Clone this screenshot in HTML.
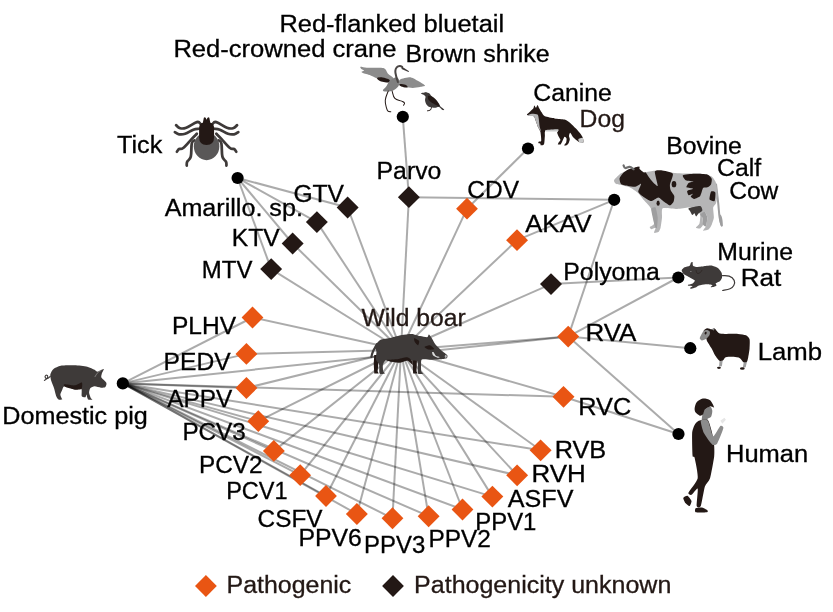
<!DOCTYPE html>
<html lang="en"><head><meta charset="utf-8"><title>Wild boar virus network</title>
<style>html,body{margin:0;padding:0;background:#fff}body{width:833px;height:612px;overflow:hidden}svg{display:block}text{font-family:"Liberation Sans",Arial,Helvetica,sans-serif;font-size:23.3px;stroke-width:0.3px}</style></head><body>
<svg width="833" height="612" viewBox="0 0 833 612">
<rect width="833" height="612" fill="#fff"/>
<g id="edges" stroke="#000" stroke-opacity="0.33" stroke-width="2" fill="none">
<line x1="401.0" y1="350.0" x2="347.6" y2="207.5"/>
<line x1="401.0" y1="350.0" x2="316.9" y2="222.1"/>
<line x1="401.0" y1="350.0" x2="292.6" y2="243.5"/>
<line x1="401.0" y1="350.0" x2="271.2" y2="269.1"/>
<line x1="401.0" y1="350.0" x2="408.9" y2="197.2"/>
<line x1="401.0" y1="350.0" x2="467.0" y2="208.7"/>
<line x1="401.0" y1="350.0" x2="517.0" y2="240.2"/>
<line x1="401.0" y1="350.0" x2="551.0" y2="284.1"/>
<line x1="401.0" y1="350.0" x2="568.2" y2="336.6"/>
<line x1="401.0" y1="350.0" x2="563.5" y2="396.8"/>
<line x1="401.0" y1="350.0" x2="540.6" y2="450.3"/>
<line x1="401.0" y1="350.0" x2="517.1" y2="475.3"/>
<line x1="401.0" y1="350.0" x2="492.4" y2="496.6"/>
<line x1="401.0" y1="350.0" x2="462.5" y2="509.5"/>
<line x1="401.0" y1="350.0" x2="428.6" y2="516.2"/>
<line x1="401.0" y1="350.0" x2="392.5" y2="518.3"/>
<line x1="401.0" y1="350.0" x2="356.9" y2="514.0"/>
<line x1="401.0" y1="350.0" x2="326.0" y2="496.0"/>
<line x1="401.0" y1="350.0" x2="300.2" y2="475.2"/>
<line x1="401.0" y1="350.0" x2="273.8" y2="450.9"/>
<line x1="401.0" y1="350.0" x2="258.3" y2="421.2"/>
<line x1="401.0" y1="350.0" x2="246.4" y2="388.0"/>
<line x1="401.0" y1="350.0" x2="246.4" y2="353.9"/>
<line x1="401.0" y1="350.0" x2="252.5" y2="317.5"/>
<line x1="122.8" y1="383.4" x2="252.5" y2="317.5"/>
<line x1="122.8" y1="383.4" x2="246.4" y2="353.9"/>
<line x1="122.8" y1="383.4" x2="246.4" y2="388.0"/>
<line x1="122.8" y1="383.4" x2="258.3" y2="421.2"/>
<line x1="122.8" y1="383.4" x2="273.8" y2="450.9"/>
<line x1="122.8" y1="383.4" x2="300.2" y2="475.2"/>
<line x1="122.8" y1="383.4" x2="326.0" y2="496.0"/>
<line x1="122.8" y1="383.4" x2="356.9" y2="514.0"/>
<line x1="122.8" y1="383.4" x2="392.5" y2="518.3"/>
<line x1="122.8" y1="383.4" x2="428.6" y2="516.2"/>
<line x1="122.8" y1="383.4" x2="462.5" y2="509.5"/>
<line x1="122.8" y1="383.4" x2="492.4" y2="496.6"/>
<line x1="122.8" y1="383.4" x2="517.1" y2="475.3"/>
<line x1="122.8" y1="383.4" x2="540.6" y2="450.3"/>
<line x1="122.8" y1="383.4" x2="563.5" y2="396.8"/>
<line x1="122.8" y1="383.4" x2="568.2" y2="336.6"/>
<line x1="237.6" y1="178.0" x2="347.6" y2="207.5"/>
<line x1="237.6" y1="178.0" x2="316.9" y2="222.1"/>
<line x1="237.6" y1="178.0" x2="292.6" y2="243.5"/>
<line x1="237.6" y1="178.0" x2="271.2" y2="269.1"/>
<line x1="402.8" y1="116.8" x2="408.9" y2="197.2"/>
<line x1="528.0" y1="148.5" x2="467.0" y2="208.7"/>
<line x1="614.2" y1="199.8" x2="517.0" y2="240.2"/>
<line x1="614.2" y1="199.8" x2="408.9" y2="197.2"/>
<line x1="614.2" y1="199.8" x2="568.2" y2="336.6"/>
<line x1="678.3" y1="277.5" x2="551.0" y2="284.1"/>
<line x1="678.3" y1="277.5" x2="568.2" y2="336.6"/>
<line x1="690.3" y1="348.2" x2="568.2" y2="336.6"/>
<line x1="678.5" y1="434.0" x2="568.2" y2="336.6"/>
<line x1="678.5" y1="434.0" x2="563.5" y2="396.8"/>
</g>
<g id="diamonds">
<path d="M347.6 196.6L358.6 207.5L347.6 218.4L336.7 207.5Z" fill="#231815"/>
<path d="M316.9 211.2L327.8 222.1L316.9 233.0L305.9 222.1Z" fill="#231815"/>
<path d="M292.6 232.6L303.6 243.5L292.6 254.4L281.7 243.5Z" fill="#231815"/>
<path d="M271.2 258.2L282.1 269.1L271.2 280.1L260.2 269.1Z" fill="#231815"/>
<path d="M408.9 186.2L419.8 197.2L408.9 208.1L397.9 197.2Z" fill="#231815"/>
<path d="M467.0 197.8L477.9 208.7L467.0 219.6L456.1 208.7Z" fill="#e95513"/>
<path d="M517.0 229.2L528.0 240.2L517.0 251.1L506.1 240.2Z" fill="#e95513"/>
<path d="M551.0 273.2L562.0 284.1L551.0 295.1L540.0 284.1Z" fill="#231815"/>
<path d="M568.2 325.7L579.2 336.6L568.2 347.6L557.2 336.6Z" fill="#e95513"/>
<path d="M563.5 385.9L574.5 396.8L563.5 407.8L552.5 396.8Z" fill="#e95513"/>
<path d="M540.6 439.4L551.6 450.3L540.6 461.2L529.6 450.3Z" fill="#e95513"/>
<path d="M517.1 464.4L528.1 475.3L517.1 486.2L506.2 475.3Z" fill="#e95513"/>
<path d="M492.4 485.7L503.3 496.6L492.4 507.6L481.4 496.6Z" fill="#e95513"/>
<path d="M462.5 498.6L473.4 509.5L462.5 520.5L451.6 509.5Z" fill="#e95513"/>
<path d="M428.6 505.3L439.6 516.2L428.6 527.2L417.7 516.2Z" fill="#e95513"/>
<path d="M392.5 507.3L403.4 518.3L392.5 529.2L381.6 518.3Z" fill="#e95513"/>
<path d="M356.9 503.1L367.8 514.0L356.9 525.0L345.9 514.0Z" fill="#e95513"/>
<path d="M326.0 485.1L336.9 496.0L326.0 506.9L315.1 496.0Z" fill="#e95513"/>
<path d="M300.2 464.2L311.1 475.2L300.2 486.1L289.2 475.2Z" fill="#e95513"/>
<path d="M273.8 439.9L284.8 450.9L273.8 461.8L262.9 450.9Z" fill="#e95513"/>
<path d="M258.3 410.2L269.2 421.2L258.3 432.1L247.4 421.2Z" fill="#e95513"/>
<path d="M246.4 377.1L257.4 388.0L246.4 398.9L235.5 388.0Z" fill="#e95513"/>
<path d="M246.4 342.9L257.4 353.9L246.4 364.8L235.5 353.9Z" fill="#e95513"/>
<path d="M252.5 306.6L263.4 317.5L252.5 328.4L241.6 317.5Z" fill="#e95513"/>
<path d="M205.9 575.1L216.8 586.1L205.9 597.1L195.0 586.1Z" fill="#e95513"/>
<path d="M393.0 575.1L403.9 586.1L393.0 597.1L382.1 586.1Z" fill="#231815"/>
</g>
<g id="hosts" fill="#000">
<circle cx="122.8" cy="383.4" r="6.1"/>
<circle cx="237.6" cy="178.0" r="6.1"/>
<circle cx="402.8" cy="116.8" r="6.1"/>
<circle cx="528.0" cy="148.5" r="6.1"/>
<circle cx="614.2" cy="199.8" r="6.1"/>
<circle cx="678.3" cy="277.5" r="6.1"/>
<circle cx="690.3" cy="348.2" r="6.1"/>
<circle cx="678.5" cy="434.0" r="6.1"/>
</g>
<g id="animals">
<g id="tick" transform="translate(170 110) scale(0.10135)">
<path d="M300.0 135.0C293.0 132.0 293.0 112.0 265.0 120.0C237.0 128.0 193.0 163.0 160.0 175.0C127.0 187.0 120.0 185.0 100.0 180.0C80.0 175.0 68.0 156.0 60.0 150.0" fill="none" stroke="#3e3a39" stroke-width="27" stroke-linecap="round" stroke-linejoin="round"/>
<path d="M422.0 135.0C429.0 132.0 429.0 112.0 457.0 120.0C485.0 128.0 529.0 163.0 562.0 175.0C595.0 187.0 602.0 185.0 622.0 180.0C642.0 175.0 654.0 156.0 662.0 150.0" fill="none" stroke="#3e3a39" stroke-width="27" stroke-linecap="round" stroke-linejoin="round"/>
<path d="M285.0 185.0C274.0 187.0 257.0 185.0 230.0 195.0C203.0 205.0 178.0 226.0 150.0 235.0C122.0 244.0 110.4 243.4 90.0 240.0C69.6 236.6 56.4 222.4 48.0 218.0" fill="none" stroke="#3e3a39" stroke-width="27" stroke-linecap="round" stroke-linejoin="round"/>
<path d="M437.0 185.0C448.0 187.0 465.0 185.0 492.0 195.0C519.0 205.0 544.0 226.0 572.0 235.0C600.0 244.0 611.6 243.4 632.0 240.0C652.4 236.6 665.6 222.4 674.0 218.0" fill="none" stroke="#3e3a39" stroke-width="27" stroke-linecap="round" stroke-linejoin="round"/>
<path d="M265.0 235.0C255.0 245.0 242.0 257.0 215.0 285.0C188.0 313.0 155.0 355.0 130.0 375.0C105.0 395.0 102.4 377.6 90.0 385.0C77.6 392.4 72.4 406.6 68.0 412.0" fill="none" stroke="#3e3a39" stroke-width="27" stroke-linecap="round" stroke-linejoin="round"/>
<path d="M457.0 235.0C467.0 245.0 480.0 257.0 507.0 285.0C534.0 313.0 567.0 355.0 592.0 375.0C617.0 395.0 619.6 377.6 632.0 385.0C644.4 392.4 649.6 406.6 654.0 412.0" fill="none" stroke="#3e3a39" stroke-width="27" stroke-linecap="round" stroke-linejoin="round"/>
<path d="M240.0 300.0C235.0 306.0 222.0 298.0 215.0 330.0C208.0 362.0 214.0 424.0 205.0 460.0C196.0 496.0 178.0 492.4 170.0 510.0C162.0 527.6 166.0 540.4 165.0 548.0" fill="none" stroke="#3e3a39" stroke-width="27" stroke-linecap="round" stroke-linejoin="round"/>
<path d="M482.0 300.0C487.0 306.0 500.0 298.0 507.0 330.0C514.0 362.0 508.0 424.0 517.0 460.0C526.0 496.0 544.0 492.4 552.0 510.0C560.0 527.6 556.0 540.4 557.0 548.0" fill="none" stroke="#3e3a39" stroke-width="27" stroke-linecap="round" stroke-linejoin="round"/>
<ellipse cx="361" cy="358" rx="126" ry="137" fill="#595757"/>
<path d="M287 180Q287 125 330 125L392 125Q435 125 435 180L435 270Q435 345 361 345Q287 345 287 270Z" fill="#231815"/>
<path d="M322 135L334 76Q345 64 353 80L361 96L369 80Q378 64 388 76L400 135Z" fill="#231815"/>
</g>
<g id="crane" transform="translate(356 60) scale(0.09147)">
<path d="M50.0 75.0C58.7 73.7 86.7 83.3 120.0 85.0C153.3 86.7 269.3 79.3 300.0 88.0C330.7 96.7 335.3 135.1 350.0 150.0C364.7 164.9 407.3 187.3 410.0 200.0C412.7 212.7 384.7 241.0 370.0 245.0C355.3 249.0 319.3 236.0 300.0 230.0C280.7 224.0 245.0 208.7 225.0 200.0C205.0 191.3 166.7 171.7 150.0 165.0C133.3 158.3 112.0 154.7 100.0 150.0C88.0 145.3 61.3 134.7 60.0 130.0C58.7 125.3 90.7 119.7 90.0 115.0C89.3 110.3 60.3 100.3 55.0 95.0C49.7 89.7 41.3 76.3 50.0 75.0Z" fill="#8c8c8c"/>
<path d="M235.0 195.0C243.3 190.8 268.3 186.7 290.0 190.0C311.7 193.3 354.2 205.8 365.0 215.0C375.8 224.2 367.5 241.2 355.0 245.0C342.5 248.8 309.2 243.0 290.0 238.0C270.8 233.0 249.2 222.2 240.0 215.0C230.8 207.8 226.7 199.2 235.0 195.0Z" fill="#231815"/>
<path d="M480.0 215.0C496.0 203.7 573.3 188.0 600.0 190.0C626.7 192.0 659.3 218.0 680.0 230.0C700.7 242.0 752.3 271.3 755.0 280.0C757.7 288.7 718.0 291.7 700.0 295.0C682.0 298.3 641.3 305.0 620.0 305.0C598.7 305.0 558.7 299.0 540.0 295.0C521.3 291.0 488.0 285.7 480.0 275.0C472.0 264.3 464.0 226.3 480.0 215.0Z" fill="#8c8c8c"/>
<path d="M480.0 262.0C490.3 260.3 525.8 264.0 540.0 270.0C554.2 276.0 568.3 293.3 565.0 298.0C561.7 302.7 534.5 301.0 520.0 298.0C505.5 295.0 484.7 286.0 478.0 280.0C471.3 274.0 469.7 263.7 480.0 262.0Z" fill="#231815"/>
<path d="M410.0 200.0C425.0 191.7 439.2 185.0 450.0 190.0C460.8 195.0 472.5 214.2 475.0 230.0C477.5 245.8 474.2 269.2 465.0 285.0C455.8 300.8 437.5 315.0 420.0 325.0C402.5 335.0 380.8 343.3 360.0 345.0C339.2 346.7 300.0 344.2 295.0 335.0C290.0 325.8 319.2 305.8 330.0 290.0C340.8 274.2 346.7 255.0 360.0 240.0C373.3 225.0 395.0 208.3 410.0 200.0Z" fill="#7f7f7f"/>
<path d="M458.0 240.0C454.4 228.0 445.6 204.0 440.0 180.0C434.4 156.0 429.0 140.0 430.0 120.0C431.0 100.0 435.0 91.0 445.0 80.0C455.0 69.0 468.0 66.0 480.0 65.0C492.0 64.0 500.0 73.0 505.0 75.0" fill="none" stroke="#4a4645" stroke-width="22" stroke-linecap="round" stroke-linejoin="round"/>
<path d="M500.0 72.0L580.0 122.0L574.0 132.0L498.0 98.0Z" fill="#3e3a39"/>
<path d="M352.0 340.0C345.6 360.0 323.4 402.0 320.0 440.0C316.6 478.0 329.0 506.4 335.0 530.0C341.0 553.6 341.0 550.8 350.0 558.0C359.0 565.2 374.0 564.4 380.0 566.0" fill="none" stroke="#231815" stroke-width="11" stroke-linecap="round" stroke-linejoin="round"/>
<path d="M395.0 340.0C401.0 356.0 404.0 398.0 425.0 420.0C446.0 442.0 479.0 440.0 500.0 450.0C521.0 460.0 526.0 461.0 530.0 470.0C534.0 479.0 522.0 490.0 520.0 495.0" fill="none" stroke="#231815" stroke-width="11" stroke-linecap="round" stroke-linejoin="round"/>
</g>
<g id="bird" transform="translate(415 86) scale(0.04904)">
<path d="M230.0 125.0C243.3 127.0 276.7 140.0 290.0 150.0C303.3 160.0 312.7 184.0 330.0 200.0C347.3 216.0 398.7 248.7 420.0 270.0C441.3 291.3 476.7 340.0 490.0 360.0C503.3 380.0 506.0 404.0 520.0 420.0C534.0 436.0 589.7 470.7 595.0 480.0C600.3 489.3 574.0 496.7 560.0 490.0C546.0 483.3 511.3 436.0 490.0 430.0C468.7 424.0 425.3 445.0 400.0 445.0C374.7 445.0 322.7 440.0 300.0 430.0C277.3 420.0 242.7 388.7 230.0 370.0C217.3 351.3 207.0 310.0 205.0 290.0C203.0 270.0 217.0 233.3 215.0 220.0C213.0 206.7 201.3 198.0 190.0 190.0C178.7 182.0 138.7 165.6 130.0 160.0C121.3 154.4 117.0 151.3 125.0 148.0C133.0 144.7 176.0 138.1 190.0 135.0C204.0 131.9 216.7 123.0 230.0 125.0Z" fill="#3e3a39"/>
<path d="M270.0 200.0C281.7 190.8 313.3 200.0 340.0 215.0C366.7 230.0 405.8 264.2 430.0 290.0C454.2 315.8 473.3 350.0 485.0 370.0C496.7 390.0 510.8 408.3 500.0 410.0C489.2 411.7 448.3 393.3 420.0 380.0C391.7 366.7 355.0 348.3 330.0 330.0C305.0 311.7 280.0 291.7 270.0 270.0C260.0 248.3 258.3 209.2 270.0 200.0Z" fill="#231815"/>
<path d="M335.0 440.0C331.7 448.3 328.3 479.2 315.0 490.0C301.7 500.8 265.0 502.5 255.0 505.0" fill="none" stroke="#231815" stroke-width="20" stroke-linecap="round" stroke-linejoin="round"/>
</g>
<g id="fox" transform="translate(522 100) scale(0.08173)">
<path d="M60.0 178.0C61.2 171.6 90.7 149.1 100.0 140.0C109.3 130.9 134.2 108.4 140.0 100.0C145.8 91.6 146.5 68.6 150.0 68.0C153.5 67.4 165.3 95.9 170.0 95.0C174.7 94.1 185.3 59.4 190.0 60.0C194.7 60.6 204.2 89.5 210.0 100.0C215.8 110.5 231.8 138.3 240.0 150.0C248.2 161.7 261.3 191.2 280.0 200.0C298.7 208.8 372.0 220.3 400.0 225.0C428.0 229.7 497.8 233.6 520.0 240.0C542.2 246.4 573.7 267.2 590.0 280.0C606.3 292.8 644.8 333.7 660.0 350.0C675.2 366.3 710.1 406.6 720.0 420.0C729.9 433.4 741.5 453.3 745.0 465.0C748.5 476.7 756.4 514.8 750.0 520.0C743.6 525.2 704.0 517.0 690.0 510.0C676.0 503.0 641.7 472.8 630.0 460.0C618.3 447.2 596.4 402.3 590.0 400.0C583.6 397.7 575.6 430.7 575.0 440.0C574.4 449.3 585.6 469.5 585.0 480.0C584.4 490.5 574.7 521.2 570.0 530.0C565.3 538.8 551.4 552.1 545.0 555.0C538.6 557.9 515.6 559.1 515.0 555.0C514.4 550.9 536.5 529.9 540.0 520.0C543.5 510.1 547.3 478.2 545.0 470.0C542.7 461.8 525.2 447.7 520.0 450.0C514.8 452.3 505.2 479.5 500.0 490.0C494.8 500.5 482.0 533.6 475.0 540.0C468.0 546.4 443.5 546.8 440.0 545.0C436.5 543.2 441.5 531.4 445.0 525.0C448.5 518.6 469.4 498.8 470.0 490.0C470.6 481.2 454.7 460.5 450.0 450.0C445.3 439.5 431.2 409.3 430.0 400.0C428.8 390.7 456.3 372.9 440.0 370.0C423.7 367.1 308.7 366.8 290.0 375.0C271.3 383.2 282.3 420.8 280.0 440.0C277.7 459.2 275.8 526.6 270.0 540.0C264.2 553.4 235.2 555.6 230.0 555.0C224.8 554.4 228.5 538.5 225.0 535.0C221.5 531.5 202.3 527.9 200.0 525.0C197.7 522.1 200.9 512.9 205.0 510.0C209.1 507.1 232.7 514.0 235.0 500.0C237.3 486.0 229.7 409.8 225.0 390.0C220.3 370.2 201.4 345.2 195.0 330.0C188.6 314.8 175.8 275.2 170.0 260.0C164.2 244.8 154.3 207.6 145.0 200.0C135.7 192.4 99.9 197.6 90.0 195.0C80.1 192.4 58.8 184.4 60.0 178.0Z" fill="#231815"/>
<path d="M120.0 168.0C133.4 167.2 180.1 170.8 190.0 178.0C199.9 185.2 202.1 213.4 205.0 230.0C207.9 246.6 211.8 302.3 215.0 320.0C218.2 337.7 234.3 380.8 232.0 382.0C229.7 383.2 202.2 344.2 195.0 330.0C187.8 315.8 175.8 275.2 170.0 260.0C164.2 244.8 155.5 207.6 145.0 200.0C134.5 192.4 88.2 196.8 80.0 195.0C71.8 193.2 70.3 188.2 75.0 185.0C79.7 181.8 106.6 168.8 120.0 168.0Z" fill="#b5b5b6"/>
<path d="M290.0 368.0C304.0 365.2 425.8 356.4 440.0 358.0C454.2 359.6 446.0 381.2 432.0 384.0C418.0 386.8 314.2 387.6 300.0 386.0C285.8 384.4 276.0 370.8 290.0 368.0Z" fill="#c9caca"/>
<path d="M690.0 478.0C694.2 472.6 735.8 457.6 742.0 462.0C748.2 466.4 756.2 516.6 752.0 522.0C747.8 527.4 706.2 520.4 700.0 516.0C693.8 511.6 685.8 483.4 690.0 478.0Z" fill="#c9caca"/>
</g>
<g id="cow" transform="translate(608 160) scale(0.14405)">
<path d="M750.0 170.0C752.5 191.7 760.8 261.7 765.0 300.0C769.2 338.3 770.8 374.2 775.0 400.0C779.2 425.8 787.5 445.8 790.0 455.0" fill="none" stroke="#9e9e9f" stroke-width="14" stroke-linecap="round" stroke-linejoin="round"/>
<ellipse cx="784" cy="420" rx="11" ry="42" fill="#9e9e9f" transform="rotate(-8 784 420)"/>
<path d="M42.0 140.0C44.5 133.5 70.2 107.0 80.0 100.0C89.8 93.0 128.0 74.5 140.0 70.0C152.0 65.5 189.0 53.5 200.0 55.0C211.0 56.5 237.0 83.0 250.0 85.0C263.0 87.0 307.0 74.3 330.0 75.0C353.0 75.7 448.0 90.0 480.0 92.0C512.0 94.0 626.0 92.7 650.0 95.0C674.0 97.3 710.0 108.5 720.0 115.0C730.0 121.5 746.0 147.5 750.0 160.0C754.0 172.5 760.0 226.0 760.0 240.0C760.0 254.0 753.0 291.0 750.0 300.0C747.0 309.0 731.5 320.0 730.0 330.0C728.5 340.0 736.0 388.0 735.0 400.0C734.0 412.0 723.5 442.0 720.0 450.0C716.5 458.0 706.0 476.0 700.0 480.0C694.0 484.0 662.0 492.0 660.0 490.0C658.0 488.0 677.0 469.0 680.0 460.0C683.0 451.0 691.0 410.0 690.0 400.0C689.0 390.0 673.5 360.0 670.0 360.0C666.5 360.0 656.0 391.0 655.0 400.0C654.0 409.0 661.5 442.5 660.0 450.0C658.5 457.5 645.0 473.0 640.0 475.0C635.0 477.0 610.5 473.5 610.0 470.0C609.5 466.5 632.0 449.0 635.0 440.0C638.0 431.0 642.5 390.0 640.0 380.0C637.5 370.0 618.0 345.0 610.0 340.0C602.0 335.0 573.0 330.0 560.0 330.0C547.0 330.0 498.0 339.5 480.0 340.0C462.0 340.5 390.5 329.0 380.0 335.0C369.5 341.0 376.5 386.5 375.0 400.0C373.5 413.5 367.5 460.0 365.0 470.0C362.5 480.0 354.5 496.5 350.0 500.0C345.5 503.5 322.0 508.0 320.0 505.0C318.0 502.0 332.0 472.5 330.0 470.0C328.0 467.5 304.0 480.5 300.0 480.0C296.0 479.5 288.0 469.0 290.0 465.0C292.0 461.0 319.0 452.5 320.0 440.0C321.0 427.5 307.0 356.0 300.0 340.0C293.0 324.0 259.0 291.0 250.0 280.0C241.0 269.0 220.0 239.0 210.0 230.0C200.0 221.0 161.0 195.5 150.0 190.0C139.0 184.5 109.5 177.5 100.0 175.0C90.5 172.5 60.8 168.5 55.0 165.0C49.2 161.5 39.5 146.5 42.0 140.0Z" fill="#b5b5b6"/>
<path d="M300.0 340.0C301.0 329.0 325.5 324.0 330.0 330.0C334.5 336.0 344.0 386.0 345.0 400.0C346.0 414.0 341.5 463.0 340.0 470.0C338.5 477.0 332.0 473.0 330.0 470.0C328.0 467.0 323.0 453.0 320.0 440.0C317.0 427.0 299.0 351.0 300.0 340.0Z" fill="#9e9e9f"/>
<path d="M640.0 380.0C641.5 376.0 665.0 358.0 670.0 360.0C675.0 362.0 689.0 390.0 690.0 400.0C691.0 410.0 683.0 455.0 680.0 460.0C677.0 465.0 662.5 456.0 660.0 450.0C657.5 444.0 657.0 407.0 655.0 400.0C653.0 393.0 638.5 384.0 640.0 380.0Z" fill="#9e9e9f"/>
<path d="M80.0 128.0C81.2 120.4 98.0 98.2 104.0 92.0C110.0 85.8 130.4 70.0 140.0 66.0C149.6 62.0 189.2 50.0 200.0 52.0C210.8 54.0 241.8 82.6 248.0 86.0C254.2 89.4 256.8 80.6 262.0 86.0C267.2 91.4 291.7 130.6 300.0 140.0C308.3 149.4 342.5 186.0 345.0 180.0C347.5 174.0 322.5 90.8 325.0 80.0C327.5 69.2 357.5 70.5 370.0 72.0C382.5 73.5 444.0 85.2 450.0 95.0C456.0 104.8 431.5 158.5 430.0 170.0C428.5 181.5 432.0 202.0 435.0 210.0C438.0 218.0 458.0 242.0 460.0 250.0C462.0 258.0 458.0 283.5 455.0 290.0C452.0 296.5 436.5 315.0 430.0 315.0C423.5 315.0 398.0 295.5 390.0 290.0C382.0 284.5 359.0 260.5 350.0 260.0C341.0 259.5 310.5 285.5 300.0 285.0C289.5 284.5 254.0 261.5 245.0 255.0C236.0 248.5 211.5 229.0 210.0 220.0C208.5 211.0 232.0 168.5 230.0 165.0C228.0 161.5 199.0 183.5 190.0 185.0C181.0 186.5 149.8 181.7 140.0 180.0C130.2 178.3 98.0 173.2 92.0 168.0C86.0 162.8 78.8 135.6 80.0 128.0Z" fill="#231815"/>
<path d="M520.0 105.0C526.0 100.5 583.0 95.5 600.0 95.0C617.0 94.5 678.0 96.5 690.0 100.0C702.0 103.5 717.5 123.0 720.0 130.0C722.5 137.0 718.0 164.0 715.0 170.0C712.0 176.0 695.5 187.5 690.0 190.0C684.5 192.5 665.0 189.0 660.0 195.0C655.0 201.0 646.0 242.5 640.0 250.0C634.0 257.5 606.5 269.5 600.0 270.0C593.5 270.5 576.0 258.5 575.0 255.0C574.0 251.5 591.5 236.0 590.0 235.0C588.5 234.0 564.0 247.0 560.0 245.0C556.0 243.0 547.0 219.5 550.0 215.0C553.0 210.5 590.5 202.5 590.0 200.0C589.5 197.5 548.0 194.0 545.0 190.0C542.0 186.0 555.0 164.0 560.0 160.0C565.0 156.0 597.0 152.0 595.0 150.0C593.0 148.0 547.5 144.5 540.0 140.0C532.5 135.5 514.0 109.5 520.0 105.0Z" fill="#231815"/>
<path d="M715.0 220.0C719.0 215.0 742.5 218.5 745.0 225.0C747.5 231.5 744.0 280.0 740.0 285.0C736.0 290.0 707.5 281.5 705.0 275.0C702.5 268.5 711.0 225.0 715.0 220.0Z" fill="#231815"/>
<ellipse cx="458" cy="168" rx="16" ry="22" fill="#231815"/>
<ellipse cx="348" cy="300" rx="11" ry="18" fill="#231815"/>
<path d="M560.0 335.0C567.0 331.5 630.5 318.5 640.0 320.0C649.5 321.5 656.0 345.0 655.0 350.0C654.0 355.0 634.3 365.8 630.0 370.0C625.7 374.2 615.0 392.0 612.0 392.0C609.0 392.0 602.7 371.0 600.0 370.0C597.3 369.0 588.0 383.5 585.0 382.0C582.0 380.5 572.5 359.7 570.0 355.0C567.5 350.3 553.0 338.5 560.0 335.0Z" fill="#3e3a39"/>
<path d="M108.0 38.0C110.4 41.6 111.6 54.0 120.0 56.0C128.4 58.0 138.4 46.4 150.0 48.0C161.6 49.6 172.4 60.8 178.0 64.0" fill="none" stroke="#6f6f6f" stroke-width="15" stroke-linecap="round" stroke-linejoin="round"/>
<path d="M185.0 55.0C187.3 52.4 214.9 44.9 218.0 46.0C221.1 47.1 218.3 63.4 216.0 66.0C213.7 68.6 198.1 73.1 195.0 72.0C191.9 70.9 182.7 57.6 185.0 55.0Z" fill="#231815"/>
</g>
<g id="rat" transform="translate(672 256) scale(0.08403)">
<path d="M585.0 235.0C604.0 236.0 649.0 229.0 680.0 240.0C711.0 251.0 729.0 268.0 740.0 290.0C751.0 312.0 745.0 330.0 735.0 350.0C725.0 370.0 716.6 378.0 690.0 390.0C663.4 402.0 619.6 406.0 602.0 410.0" fill="none" stroke="#3e3a39" stroke-width="14" stroke-linecap="round" stroke-linejoin="round"/>
<path d="M115.0 170.0C116.2 160.7 138.9 141.4 150.0 135.0C161.1 128.6 201.2 121.4 210.0 115.0C218.8 108.6 220.9 85.0 225.0 80.0C229.1 75.0 242.1 67.9 245.0 72.0C247.9 76.1 243.6 108.2 250.0 115.0C256.4 121.8 282.5 129.7 300.0 130.0C317.5 130.3 379.0 119.8 400.0 118.0C421.0 116.2 462.5 111.8 480.0 115.0C497.5 118.2 537.2 135.1 550.0 145.0C562.8 154.9 584.8 186.6 590.0 200.0C595.2 213.4 597.3 248.3 595.0 260.0C592.7 271.7 578.8 292.4 570.0 300.0C561.2 307.6 524.7 319.2 520.0 325.0C515.3 330.8 532.3 345.3 530.0 350.0C527.7 354.7 508.2 362.7 500.0 365.0C491.8 367.3 462.3 372.3 460.0 370.0C457.7 367.7 487.0 349.1 480.0 345.0C473.0 340.9 418.7 334.4 400.0 335.0C381.3 335.6 334.0 345.3 320.0 350.0C306.0 354.7 290.5 370.3 280.0 375.0C269.5 379.7 237.6 389.4 230.0 390.0C222.4 390.6 213.2 383.5 215.0 380.0C216.8 376.5 246.8 362.9 245.0 360.0C243.2 357.1 206.4 356.8 200.0 355.0C193.6 353.2 184.2 348.5 190.0 345.0C195.8 341.5 240.7 331.4 250.0 325.0C259.3 318.6 275.8 298.8 270.0 290.0C264.2 281.2 215.2 258.8 200.0 250.0C184.8 241.2 149.9 224.3 140.0 215.0C130.1 205.7 113.8 179.3 115.0 170.0Z" fill="#3e3a39"/>
<ellipse cx="225" cy="186" rx="7" ry="5" fill="#dcdddd"/>
<path d="M288.0 172.0C290.0 178.4 289.6 198.0 298.0 204.0C306.4 210.0 318.4 208.8 330.0 202.0C341.6 195.2 350.8 176.4 356.0 170.0" fill="none" stroke="#231815" stroke-width="6" stroke-linecap="round" stroke-linejoin="round"/>
</g>
<g id="sheep" transform="translate(694 322) scale(0.08819)">
<path d="M290.0 436.0L326.0 432.0L316.0 502.0L284.0 506.0Z" fill="#9e9e9f"/>
<path d="M565.0 452.0L602.0 446.0L586.0 512.0L554.0 516.0Z" fill="#9e9e9f"/>
<ellipse cx="283" cy="520" rx="22" ry="12" fill="#231815"/>
<ellipse cx="548" cy="527" rx="27" ry="14" fill="#231815"/>
<path d="M150.0 70.0C160.5 67.9 190.1 81.4 200.0 82.0C209.9 82.6 225.7 70.0 235.0 75.0C244.3 80.0 266.6 118.0 280.0 125.0C293.4 132.0 324.3 133.8 350.0 135.0C375.7 136.2 472.0 133.2 500.0 135.0C528.0 136.8 574.8 143.0 590.0 150.0C605.2 157.0 625.3 177.5 630.0 195.0C634.7 212.5 631.8 276.1 630.0 300.0C628.2 323.9 618.5 382.5 615.0 400.0C611.5 417.5 606.4 443.6 600.0 450.0C593.6 456.4 569.3 459.7 560.0 455.0C550.7 450.3 532.8 417.0 520.0 410.0C507.2 403.0 468.7 396.2 450.0 395.0C431.3 393.8 374.0 395.3 360.0 400.0C346.0 404.7 338.2 430.3 330.0 435.0C321.8 439.7 300.5 446.4 290.0 440.0C279.5 433.6 250.5 396.3 240.0 380.0C229.5 363.7 210.5 318.7 200.0 300.0C189.5 281.3 157.0 232.8 150.0 220.0C143.0 207.2 144.7 204.0 140.0 190.0C135.3 176.0 108.8 114.0 110.0 100.0C111.2 86.0 139.5 72.1 150.0 70.0Z" fill="#231815"/>
<path d="M110.0 100.0C117.6 94.2 141.8 88.8 150.0 90.0C158.2 91.2 177.1 103.0 180.0 110.0C182.9 117.0 179.7 140.7 175.0 150.0C170.3 159.3 149.9 183.0 140.0 190.0C130.1 197.0 98.8 210.6 90.0 210.0C81.2 209.4 65.6 193.2 65.0 185.0C64.4 176.8 79.8 149.9 85.0 140.0C90.2 130.1 102.4 105.8 110.0 100.0Z" fill="#8c8c8c"/>
<ellipse cx="132" cy="126" rx="11" ry="16" fill="#231815" transform="rotate(20 132 126)"/>
<path d="M198.0 86.0L236.0 68.0L226.0 96.0Z" fill="#8c8c8c"/>
</g>
<g id="human" transform="translate(672 392) scale(0.20559)">
<path d="M160.0 85.0C164.7 80.3 180.2 69.3 185.0 70.0C189.8 70.7 195.3 83.3 196.0 90.0C196.7 96.7 193.5 114.8 190.0 120.0C186.5 125.2 174.7 129.0 170.0 129.0C165.3 129.0 157.7 123.2 155.0 120.0C152.3 116.8 149.3 109.7 150.0 105.0C150.7 100.3 155.3 89.7 160.0 85.0Z" fill="#7f7f7f"/>
<path d="M148.0 108.0L174.0 128.0L172.0 142.0L143.0 142.0Z" fill="#7f7f7f"/>
<path d="M110.0 80.0C110.7 73.3 114.7 56.4 120.0 50.0C125.3 43.6 141.3 33.3 150.0 32.0C158.7 30.7 177.7 34.3 185.0 40.0C192.3 45.7 205.0 71.0 205.0 75.0C205.0 79.0 191.0 68.7 185.0 70.0C179.0 71.3 164.7 79.7 160.0 85.0C155.3 90.3 153.3 106.0 150.0 110.0C146.7 114.0 139.7 116.3 135.0 115.0C130.3 113.7 118.3 104.7 115.0 100.0C111.7 95.3 109.3 86.7 110.0 80.0Z" fill="#231815"/>
<path d="M130.0 140.0C136.5 137.8 168.5 132.0 175.0 138.0C181.5 144.0 192.0 187.8 195.0 200.0C198.0 212.2 204.0 248.5 205.0 260.0C206.0 271.5 207.0 299.0 205.0 315.0C203.0 331.0 189.5 405.5 185.0 420.0C180.5 434.5 164.5 446.5 160.0 460.0C155.5 473.5 144.0 545.5 140.0 555.0C136.0 564.5 121.5 563.5 120.0 555.0C118.5 546.5 127.5 475.5 125.0 470.0C122.5 464.5 99.5 498.0 95.0 500.0C90.5 502.0 77.0 498.0 80.0 490.0C83.0 482.0 122.0 437.0 125.0 420.0C128.0 403.0 112.5 331.0 110.0 320.0C107.5 309.0 101.2 322.0 100.0 310.0C98.8 298.0 97.0 215.0 98.0 200.0C99.0 185.0 106.8 166.0 110.0 160.0C113.2 154.0 123.5 142.2 130.0 140.0Z" fill="#231815"/>
<path d="M140.0 140.0C142.0 134.0 169.0 132.5 175.0 140.0C181.0 147.5 194.0 212.5 200.0 215.0C206.0 217.5 230.0 169.0 235.0 165.0C240.0 161.0 251.5 166.5 250.0 175.0C248.5 183.5 225.5 242.0 220.0 250.0C214.5 258.0 201.5 260.0 195.0 255.0C188.5 250.0 160.5 211.5 155.0 200.0C149.5 188.5 138.0 146.0 140.0 140.0Z" fill="#8c8c8c"/>
<path d="M235.0 140.0L255.0 125.0L262.0 135.0L245.0 155.0Z" fill="#e6e6e6"/>
<path d="M55.0 515.0C56.0 511.5 71.0 503.5 75.0 505.0C79.0 506.5 94.0 525.0 95.0 530.0C96.0 535.0 88.0 554.0 85.0 555.0C82.0 556.0 68.0 544.0 65.0 540.0C62.0 536.0 54.0 518.5 55.0 515.0Z" fill="#231815"/>
<path d="M115.0 565.0C118.0 562.7 139.3 561.0 145.0 562.0C150.7 563.0 169.5 572.7 172.0 575.0C174.5 577.3 175.7 584.0 170.0 585.0C164.3 586.0 120.5 587.0 115.0 585.0C109.5 583.0 112.0 567.3 115.0 565.0Z" fill="#231815"/>
</g>
<g id="pig" transform="translate(38 358) scale(0.09124)">
<path d="M135.0 200.0C129.0 205.0 116.0 222.0 105.0 225.0C94.0 228.0 84.0 222.0 80.0 215.0C76.0 208.0 80.0 194.0 85.0 190.0C90.0 186.0 102.0 188.0 105.0 195.0C108.0 202.0 107.0 215.0 100.0 225.0C93.0 235.0 76.0 241.0 70.0 245.0" fill="none" stroke="#3e3a39" stroke-width="12" stroke-linecap="round" stroke-linejoin="round"/>
<path d="M135.0 180.0C137.9 164.8 156.6 131.1 170.0 120.0C183.4 108.9 223.2 89.7 250.0 85.0C276.8 80.3 366.2 78.8 400.0 80.0C433.8 81.2 514.3 89.2 540.0 95.0C565.7 100.8 607.2 123.6 620.0 130.0C632.8 136.4 638.3 151.2 650.0 150.0C661.7 148.8 714.2 117.7 720.0 120.0C725.8 122.3 702.9 158.9 700.0 170.0C697.1 181.1 689.8 203.9 695.0 215.0C700.2 226.1 738.6 256.2 745.0 265.0C751.4 273.8 751.2 283.6 750.0 290.0C748.8 296.4 742.0 315.9 735.0 320.0C728.0 324.1 703.4 326.2 690.0 325.0C676.6 323.8 633.4 309.4 620.0 310.0C606.6 310.6 582.0 321.8 575.0 330.0C568.0 338.2 559.4 367.2 560.0 380.0C560.6 392.8 575.3 431.2 580.0 440.0C584.7 448.8 603.5 453.2 600.0 455.0C596.5 456.8 558.2 461.4 550.0 455.0C541.8 448.6 533.5 402.9 530.0 400.0C526.5 397.1 525.8 427.7 520.0 430.0C514.2 432.3 485.2 430.5 480.0 420.0C474.8 409.5 484.3 348.8 475.0 340.0C465.7 331.2 421.6 348.5 400.0 345.0C378.4 341.5 305.8 309.4 290.0 310.0C274.2 310.6 270.2 339.5 265.0 350.0C259.8 360.5 245.6 388.9 245.0 400.0C244.4 411.1 257.7 438.6 260.0 445.0C262.3 451.4 269.1 453.8 265.0 455.0C260.9 456.2 232.6 459.1 225.0 455.0C217.4 450.9 205.8 434.6 200.0 420.0C194.2 405.4 181.4 349.8 175.0 330.0C168.6 310.2 149.7 267.5 145.0 250.0C140.3 232.5 132.1 195.2 135.0 180.0Z" fill="#3e3a39"/>
<path d="M290.0 288.0C302.1 286.1 377.8 302.3 400.0 300.0C422.2 297.7 471.1 263.3 480.0 268.0C488.9 272.7 485.3 331.0 476.0 340.0C466.7 349.0 421.0 347.8 400.0 345.0C379.0 342.2 308.8 322.6 296.0 316.0C283.2 309.4 277.9 289.9 290.0 288.0Z" fill="#231815"/>
<path d="M625.0 205.0C631.0 196.0 642.0 173.0 655.0 160.0C668.0 147.0 683.0 144.0 690.0 140.0" fill="none" stroke="#c9caca" stroke-width="5" stroke-linecap="round" stroke-linejoin="round"/>
</g>
<g id="boar" transform="translate(364 328) scale(0.10804)">
<path d="M120.0 150.0C112.8 163.0 94.4 191.4 84.0 215.0C73.6 238.6 71.2 257.4 68.0 268.0" fill="none" stroke="#3e3a39" stroke-width="20" stroke-linecap="round" stroke-linejoin="round"/>
<path d="M95.0 250.0L140.0 250.0L126.0 400.0L136.0 420.0L95.0 420.0L90.0 330.0Z" fill="#231815"/>
<path d="M440.0 250.0L492.0 250.0L486.0 400.0L496.0 420.0L455.0 420.0L450.0 330.0Z" fill="#231815"/>
<path d="M100.0 170.0C104.1 157.2 132.5 119.3 150.0 110.0C167.5 100.7 226.7 95.2 250.0 90.0C273.3 84.8 327.8 69.1 350.0 65.0C372.2 60.9 420.2 53.8 440.0 55.0C459.8 56.2 503.1 71.5 520.0 75.0C536.9 78.5 575.7 86.8 585.0 85.0C594.3 83.2 595.3 59.4 600.0 60.0C604.7 60.6 618.0 79.5 625.0 90.0C632.0 100.5 648.9 136.0 660.0 150.0C671.1 164.0 707.2 198.3 720.0 210.0C732.8 221.7 764.8 241.8 770.0 250.0C775.2 258.2 773.2 275.3 765.0 280.0C756.8 284.7 716.9 288.2 700.0 290.0C683.1 291.8 636.3 295.0 620.0 295.0C603.7 295.0 570.5 289.4 560.0 290.0C549.5 290.6 533.5 287.2 530.0 300.0C526.5 312.8 527.9 386.0 530.0 400.0C532.1 414.0 551.5 417.7 548.0 420.0C544.5 422.3 506.2 432.8 500.0 420.0C493.8 407.2 502.0 324.0 495.0 310.0C488.0 296.0 451.1 301.2 440.0 300.0C428.9 298.8 412.8 297.7 400.0 300.0C387.2 302.3 347.5 318.2 330.0 320.0C312.5 321.8 265.2 317.3 250.0 315.0C234.8 312.7 208.8 297.1 200.0 300.0C191.2 302.9 177.6 328.3 175.0 340.0C172.4 351.7 176.0 390.7 178.0 400.0C180.0 409.3 195.8 417.7 192.0 420.0C188.2 422.3 151.1 429.3 145.0 420.0C138.9 410.7 144.1 355.2 140.0 340.0C135.9 324.8 112.9 304.0 110.0 290.0C107.1 276.0 116.2 234.0 115.0 220.0C113.8 206.0 95.9 182.8 100.0 170.0Z" fill="#3e3a39"/>
<path d="M210.0 298.0C206.5 294.5 277.8 293.3 300.0 290.0C322.2 286.7 383.7 268.8 400.0 270.0C416.3 271.2 434.2 291.8 440.0 300.0C445.8 308.2 454.7 340.0 450.0 340.0C445.3 340.0 414.0 302.3 400.0 300.0C386.0 297.7 352.2 320.2 330.0 320.0C307.8 319.8 213.5 301.5 210.0 298.0Z" fill="#231815"/>
<path d="M560.0 175.0C561.2 170.3 599.5 157.7 610.0 160.0C620.5 162.3 651.2 190.3 650.0 195.0C648.8 199.7 610.5 202.3 600.0 200.0C589.5 197.7 558.8 179.7 560.0 175.0Z" fill="#231815"/>
<path d="M465.0 95.0C469.7 93.8 505.9 112.4 510.0 120.0C514.1 127.6 504.7 158.8 500.0 160.0C495.3 161.2 474.1 137.6 470.0 130.0C465.9 122.4 460.3 96.2 465.0 95.0Z" fill="#231815"/>
<path d="M630.0 225.0C629.4 228.5 634.2 249.2 640.0 255.0C645.8 260.8 673.0 273.2 680.0 275.0C687.0 276.8 701.8 272.0 700.0 270.0C698.2 268.0 671.4 263.2 665.0 258.0C658.6 252.8 649.1 228.8 645.0 225.0C640.9 221.2 630.6 221.5 630.0 225.0Z" fill="#dcdddd"/>
<ellipse cx="757" cy="262" rx="9" ry="15" fill="#b5b5b6"/>
</g>
</g>
<g id="labels" style="will-change:opacity">
<text x="279.4" y="32.1" textLength="224.7" lengthAdjust="spacingAndGlyphs" fill="#000" stroke="#000">Red-flanked bluetail</text>
<text x="173.4" y="57.4" textLength="223.1" lengthAdjust="spacingAndGlyphs" fill="#000" stroke="#000">Red-crowned crane</text>
<text x="405.6" y="61.5" textLength="144.1" lengthAdjust="spacingAndGlyphs" fill="#000" stroke="#000">Brown shrike</text>
<text x="533.3" y="101.2" textLength="78.6" lengthAdjust="spacingAndGlyphs" fill="#000" stroke="#000">Canine</text>
<text x="579.6" y="126.8" textLength="45.3" lengthAdjust="spacingAndGlyphs" fill="#231815" stroke="#231815">Dog</text>
<text x="666.2" y="154.0" textLength="75.6" lengthAdjust="spacingAndGlyphs" fill="#000" stroke="#000">Bovine</text>
<text x="717.1" y="176.2" textLength="44.1" lengthAdjust="spacingAndGlyphs" fill="#000" stroke="#000">Calf</text>
<text x="729.2" y="198.9" textLength="49.2" lengthAdjust="spacingAndGlyphs" fill="#000" stroke="#000">Cow</text>
<text x="717.3" y="260.2" textLength="75.8" lengthAdjust="spacingAndGlyphs" fill="#000" stroke="#000">Murine</text>
<text x="740.7" y="286.4" textLength="40.7" lengthAdjust="spacingAndGlyphs" fill="#000" stroke="#000">Rat</text>
<text x="757.7" y="360.0" textLength="64.3" lengthAdjust="spacingAndGlyphs" fill="#000" stroke="#000">Lamb</text>
<text x="726.0" y="462.4" textLength="82.2" lengthAdjust="spacingAndGlyphs" fill="#000" stroke="#000">Human</text>
<text x="117.1" y="153.4" textLength="45.1" lengthAdjust="spacingAndGlyphs" fill="#000" stroke="#000">Tick</text>
<text x="2.3" y="423.6" textLength="145.5" lengthAdjust="spacingAndGlyphs" fill="#000" stroke="#000">Domestic pig</text>
<text x="361.5" y="325.7" textLength="104.3" lengthAdjust="spacingAndGlyphs" fill="#231815" stroke="#231815">Wild boar</text>
<text x="293.4" y="202.3" textLength="50.6" lengthAdjust="spacingAndGlyphs" fill="#000" stroke="#000">GTV</text>
<text x="164.7" y="216.0" textLength="138.2" lengthAdjust="spacingAndGlyphs" fill="#000" stroke="#000">Amarillo. sp.</text>
<text x="231.8" y="245.8" textLength="47.9" lengthAdjust="spacingAndGlyphs" fill="#000" stroke="#000">KTV</text>
<text x="201.8" y="277.5" textLength="50.6" lengthAdjust="spacingAndGlyphs" fill="#000" stroke="#000">MTV</text>
<text x="376.6" y="179.1" textLength="64.7" lengthAdjust="spacingAndGlyphs" fill="#000" stroke="#000">Parvo</text>
<text x="467.3" y="197.6" textLength="51.7" lengthAdjust="spacingAndGlyphs" fill="#000" stroke="#000">CDV</text>
<text x="525.2" y="232.3" textLength="66.5" lengthAdjust="spacingAndGlyphs" fill="#000" stroke="#000">AKAV</text>
<text x="563.3" y="279.8" textLength="96.5" lengthAdjust="spacingAndGlyphs" fill="#000" stroke="#000">Polyoma</text>
<text x="585.4" y="341.3" textLength="51.1" lengthAdjust="spacingAndGlyphs" fill="#000" stroke="#000">RVA</text>
<text x="578.3" y="415.3" textLength="53.0" lengthAdjust="spacingAndGlyphs" fill="#000" stroke="#000">RVC</text>
<text x="554.7" y="457.9" textLength="51.5" lengthAdjust="spacingAndGlyphs" fill="#000" stroke="#000">RVB</text>
<text x="531.5" y="481.5" textLength="54.3" lengthAdjust="spacingAndGlyphs" fill="#000" stroke="#000">RVH</text>
<text x="507.8" y="507.0" textLength="65.6" lengthAdjust="spacingAndGlyphs" fill="#000" stroke="#000">ASFV</text>
<text x="475.3" y="529.7" textLength="61.1" lengthAdjust="spacingAndGlyphs" fill="#000" stroke="#000">PPV1</text>
<text x="428.4" y="547.1" textLength="62.4" lengthAdjust="spacingAndGlyphs" fill="#000" stroke="#000">PPV2</text>
<text x="364.1" y="552.7" textLength="61.1" lengthAdjust="spacingAndGlyphs" fill="#000" stroke="#000">PPV3</text>
<text x="298.4" y="546.0" textLength="63.5" lengthAdjust="spacingAndGlyphs" fill="#000" stroke="#000">PPV6</text>
<text x="257.6" y="526.7" textLength="64.9" lengthAdjust="spacingAndGlyphs" fill="#000" stroke="#000">CSFV</text>
<text x="226.2" y="498.5" textLength="61.4" lengthAdjust="spacingAndGlyphs" fill="#000" stroke="#000">PCV1</text>
<text x="199.0" y="473.4" textLength="63.5" lengthAdjust="spacingAndGlyphs" fill="#000" stroke="#000">PCV2</text>
<text x="182.4" y="439.8" textLength="63.4" lengthAdjust="spacingAndGlyphs" fill="#000" stroke="#000">PCV3</text>
<text x="167.2" y="406.6" textLength="65.1" lengthAdjust="spacingAndGlyphs" fill="#000" stroke="#000">APPV</text>
<text x="163.6" y="369.5" textLength="67.0" lengthAdjust="spacingAndGlyphs" fill="#000" stroke="#000">PEDV</text>
<text x="172.0" y="333.5" textLength="64.0" lengthAdjust="spacingAndGlyphs" fill="#000" stroke="#000">PLHV</text>
<text x="226.5" y="592.8" textLength="124.8" lengthAdjust="spacingAndGlyphs" fill="#231815" stroke="#231815">Pathogenic</text>
<text x="414.1" y="593.0" textLength="257.2" lengthAdjust="spacingAndGlyphs" fill="#231815" stroke="#231815">Pathogenicity unknown</text>
</g>
</svg></body></html>
